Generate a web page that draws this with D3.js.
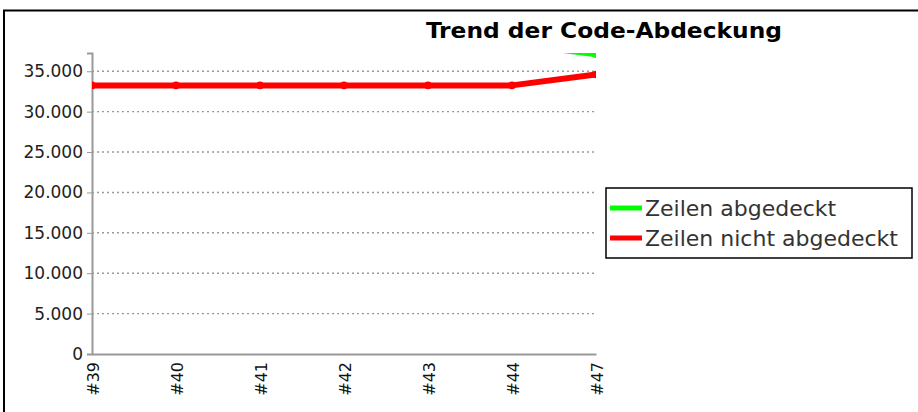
<!DOCTYPE html>
<html>
<head>
<meta charset="utf-8">
<script src="https://cdn.jsdelivr.net/npm/d3@7"></script>
<style>
  body { margin: 0; background: #fff; }
  svg { display: block; }
</style>
</head>
<body>
<div id="chart"></div>
<script>
const builds = ['#39', '#40', '#41', '#42', '#43', '#44', '#47']
const covered = [38450, 38450, 38450, 38450, 38450, 38450, 37100]
const notCovered = [33250, 33250, 33250, 33250, 33250, 33250, 34600]
const yTicks = [0, 5000, 10000, 15000, 20000, 25000, 30000, 35000]
const seriesNames = ['Zeilen abgedeckt', 'Zeilen nicht abgedeckt']
const seriesColors = ['#00ff00', '#ff0000']

const width = 918
const height = 412
const margin = {top: 53, right: 322, bottom: 58, left: 92}

const svg = d3.select('#chart')
    .append('svg')
    .attr('width', width)
    .attr('height', height)

// outer frame (only top and left edges are inside the picture)
svg.append('rect')
    .attr('x', 4)
    .attr('y', 10.5)
    .attr('width', 1000)
    .attr('height', 1000)
    .attr('fill', 'none')
    .attr('stroke', '#000')
    .attr('stroke-width', 2)

svg.append('text')
    .attr('x', 426)
    .attr('y', 38)
    .attr('textLength', 356)
    .attr('lengthAdjust', 'spacingAndGlyphs')
    .style('font', 'bold 22px "DejaVu Sans Condensed", "DejaVu Sans", sans-serif')
    .style('fill', '#000')
    .text('Trend der Code-Abdeckung')

const x = d3.scalePoint()
    .domain(builds)
    .range([margin.left, width - margin.right])

const y = d3.scaleLinear()
    .domain([0, 37260])
    .range([height - margin.bottom, margin.top])

const fmt = d3.formatLocale({decimal: ',', thousands: '.', grouping: [3], currency: ['', '€']}).format(',d')

// grid
svg.append('g')
    .selectAll('line')
    .data(yTicks.filter(d => d > 0))
    .enter()
    .append('line')
    .attr('x1', margin.left)
    .attr('x2', width - margin.right)
    .attr('y1', d => y(d))
    .attr('y2', d => y(d))
    .attr('stroke', '#999')
    .attr('stroke-width', 1.4)
    .attr('stroke-dasharray', '2,3')

// y axis
const yAxis = svg.append('g')
    .attr('transform', `translate(${margin.left},0)`)
    .call(d3.axisLeft(y).tickValues(yTicks).tickFormat(fmt).tickSize(5).tickPadding(4))
yAxis.select('.domain').attr('stroke', '#999').attr('stroke-width', 2)
yAxis.selectAll('.tick line').attr('stroke', '#999')
yAxis.selectAll('text')
    .style('font', '17px "DejaVu Sans", sans-serif')
    .style('fill', '#222')

// x axis
const xAxis = svg.append('g')
    .attr('transform', `translate(0,${height - margin.bottom})`)
    .call(d3.axisBottom(x).tickSize(0).tickPadding(6))
xAxis.select('.domain').attr('stroke', '#999').attr('stroke-width', 2)
xAxis.selectAll('text')
    .attr('transform', 'rotate(-90)')
    .attr('text-anchor', 'end')
    .attr('x', -8)
    .attr('y', 1)
    .attr('dy', '0.35em')
    .style('font', '16px "DejaVu Sans", sans-serif')
    .style('fill', '#111')

// clip to the plot area
svg.append('clipPath')
    .attr('id', 'plot')
    .append('rect')
    .attr('x', margin.left)
    .attr('y', margin.top)
    .attr('width', width - margin.left - margin.right)
    .attr('height', height - margin.top - margin.bottom)

const line = d3.line()
    .x((d, i) => x(builds[i]))
    .y(d => y(d))

const series = [covered, notCovered]
const plot = svg.append('g').attr('clip-path', 'url(#plot)')

series.forEach((values, s) => {
    plot.append('path')
        .datum(values)
        .attr('d', line)
        .attr('fill', 'none')
        .attr('stroke', seriesColors[s])
        .attr('stroke-width', 6)
        .attr('stroke-linejoin', 'round')

    plot.selectAll('.pt' + s)
        .data(values)
        .enter()
        .append('circle')
        .attr('cx', (d, i) => x(builds[i]))
        .attr('cy', d => y(d))
        .attr('r', 3.8)
        .attr('fill', seriesColors[s])
})

// legend
const legend = svg.append('g')
legend.append('rect')
    .attr('x', 606)
    .attr('y', 188)
    .attr('width', 306)
    .attr('height', 70)
    .attr('fill', '#fff')
    .attr('stroke', '#000')
    .attr('stroke-width', 1.5)

seriesNames.forEach((name, i) => {
    const ly = 208 + i * 30
    legend.append('line')
        .attr('x1', 610)
        .attr('x2', 642)
        .attr('y1', ly)
        .attr('y2', ly)
        .attr('stroke', seriesColors[i])
        .attr('stroke-width', 5)
    legend.append('text')
        .attr('x', 645)
        .attr('y', ly)
        .attr('dy', '0.36em')
        .style('font', '22px "DejaVu Sans", sans-serif')
        .style('fill', '#333')
        .text(name)
})
</script>
</body>
</html>
